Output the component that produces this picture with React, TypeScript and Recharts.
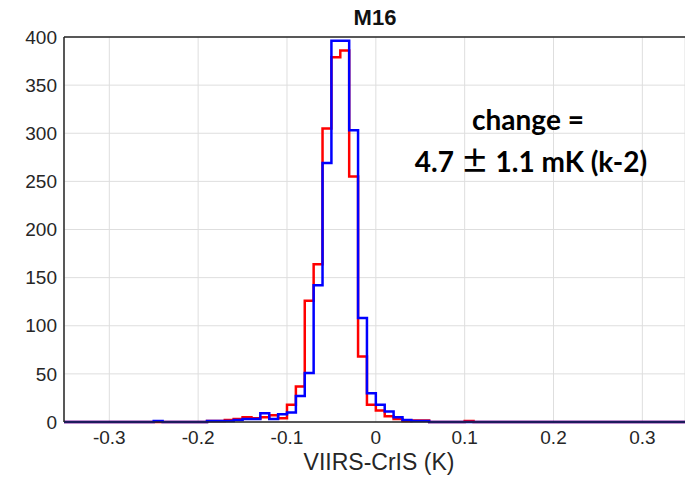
import { LineChart, Line, XAxis, YAxis, CartesianGrid, ReferenceLine } from "recharts";

// left edges of histogram bins (K), plus the two ends of the axis
const binEdges = [
  -0.351, -0.25, -0.24, -0.23, -0.22, -0.21, -0.2, -0.19, -0.18, -0.17, -0.16, -0.15, -0.14,
  -0.13, -0.12, -0.11, -0.1, -0.09, -0.08, -0.07, -0.06, -0.05, -0.04, -0.03, -0.02, -0.01,
  0, 0.01, 0.02, 0.03, 0.04, 0.05, 0.06, 0.07, 0.08, 0.09, 0.1, 0.11, 0.348,
];

const blueCounts = [
  0, 1, 0, 0, 0, 0, 0, 1, 1, 1, 2, 3, 3,
  9, 3, 8, 10, 27, 51, 142, 269, 396, 396, 303, 108, 30,
  18, 11, 5, 2, 1, 1, 0, 0, 0, 0, 0, 0, 0,
];

const redCounts = [
  0, 0, 0, 0, 0, 0, 0, 1, 1, 2, 3, 5, 4,
  5, 7, 4, 18, 37, 126, 164, 305, 379, 386, 255, 68, 18,
  12, 6, 3, 1, 1.5, 1.5, 0, 0, 0, 0, 1, 0, 0,
];

const xTicks = [-0.3, -0.2, -0.1, 0, 0.1, 0.2, 0.3];
const yTicks = [0, 50, 100, 150, 200, 250, 300, 350, 400];

const data = binEdges.map((x, i) => ({ x, blue: blueCounts[i], red: redCounts[i] }));

const W = 685;
const H = 478;
const axisColor = "#262626";
const font = "'Liberation Sans', Arial, Helvetica, sans-serif";
const noteFont = "Lato, 'Open Sans', sans-serif";

export default function App() {
  return (
    <div style={{ position: "absolute", left: 0, top: 0, width: W, height: H, background: "#fff" }}>
      <LineChart width={W} height={H} data={data} margin={{ top: 37, right: 0, left: 0, bottom: 0 }}>
        <CartesianGrid stroke="#dedede" strokeWidth={1} />
        <XAxis
          dataKey="x"
          type="number"
          domain={[-0.351, 0.348]}
          ticks={xTicks}
          allowDataOverflow
          height={56}
          tickLine={false}
          tickSize={0}
          tickMargin={9}
          axisLine={{ stroke: axisColor, strokeWidth: 1.5 }}
          tick={{ fill: axisColor, fontSize: 19, fontFamily: font }}
          tickFormatter={(v) => (v === 0 ? "0" : v.toFixed(1))}
        />
        <YAxis
          type="number"
          domain={[0, 400]}
          ticks={yTicks}
          width={64}
          tickLine={false}
          tickSize={0}
          tickMargin={7}
          axisLine={{ stroke: axisColor, strokeWidth: 1.5 }}
          tick={{ fill: axisColor, fontSize: 19, fontFamily: font }}
        />
        <ReferenceLine y={400} stroke={axisColor} strokeWidth={1.5} />
        <Line
          type="stepAfter"
          dataKey="red"
          stroke="#ff0000"
          strokeWidth={2.5}
          dot={false}
          isAnimationActive={false}
        />
        <Line
          type="stepAfter"
          dataKey="blue"
          stroke="#0000ff"
          strokeWidth={2.5}
          dot={false}
          isAnimationActive={false}
        />
      </LineChart>
      <svg
        width={W}
        height={H}
        style={{ position: "absolute", left: 0, top: 0, pointerEvents: "none" }}
      >
        <text x={375} y={25} textAnchor="middle" fontFamily={font} fontWeight="bold" fontSize={22} fill="#111">
          M16
        </text>
        <text x={379} y={470} textAnchor="middle" fontFamily={font} fontSize={23} fill={axisColor}>
          VIIRS-CrIS (K)
        </text>
        <text x={528} y={130} textAnchor="middle" fontFamily={noteFont} fontWeight="bold" fontSize={28} fill="#000">
          change =
        </text>
        <text x={531} y={172} textAnchor="middle" fontFamily={noteFont} fontWeight="bold" fontSize={28} fill="#000">
          4.7 <tspan fontFamily="'Noto Sans CJK JP', sans-serif" fontWeight="bold">±</tspan> 1.1 mK (k-2)
        </text>
      </svg>
    </div>
  );
}
